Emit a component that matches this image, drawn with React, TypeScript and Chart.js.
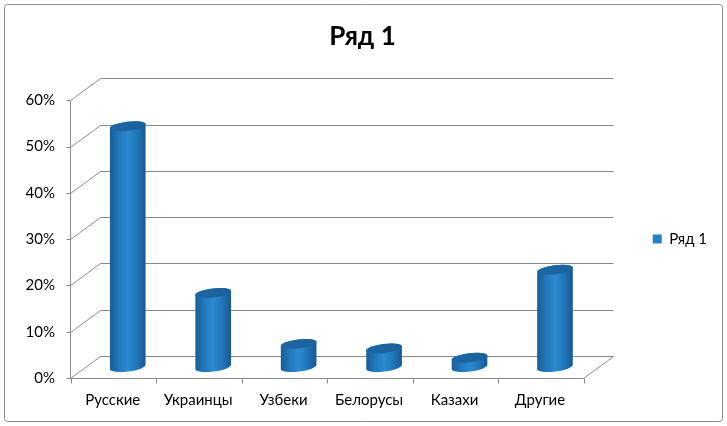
import { useEffect, useRef } from "react";
import { Chart, registerables } from "chart.js";

Chart.register(...registerables);

const categories = ["Русские", "Украинцы", "Узбеки", "Белорусы", "Казахи", "Другие"];
const shares = [52, 16, 5, 4, 2, 21];
const seriesName = "Ряд 1";
const axisMax = 60;
const axisStep = 10;

const FONT = "Lato, 'Open Sans', 'DejaVu Sans', sans-serif";
const DX = 30; // depth of the 3d box
const DY = 22;
const LINE = "#8a8a8a";

const drawCylinder = (
  ctx: CanvasRenderingContext2D,
  cx: number,
  yTop: number,
  yBot: number,
  rx: number,
  ry: number,
  rot: number
) => {
  const c = Math.cos(rot);
  const s = Math.sin(rot);
  const body = ctx.createLinearGradient(cx - rx, 0, cx + rx, 0);
  body.addColorStop(0, "#1a5c95");
  body.addColorStop(0.25, "#2178bb");
  body.addColorStop(0.5, "#2b8ad1");
  body.addColorStop(0.75, "#2076b8");
  body.addColorStop(1, "#195890");

  ctx.beginPath();
  ctx.moveTo(cx - rx * c, yTop - rx * s);
  ctx.lineTo(cx - rx * c, yBot - rx * s);
  ctx.ellipse(cx, yBot, rx, ry, rot, Math.PI, 0, true);
  ctx.lineTo(cx + rx * c, yTop + rx * s);
  ctx.ellipse(cx, yTop, rx, ry, rot, 0, Math.PI, true);
  ctx.closePath();
  ctx.fillStyle = body;
  ctx.fill();

  const top = ctx.createLinearGradient(cx - rx, 0, cx + rx, 0);
  top.addColorStop(0, "#1d67a5");
  top.addColorStop(1, "#1b619c");
  ctx.beginPath();
  ctx.ellipse(cx, yTop, rx, ry, rot, 0, Math.PI * 2);
  ctx.fillStyle = top;
  ctx.fill();
};

const frame3d = {
  id: "frame3d",
  beforeDraw(chart: any) {
    const { ctx } = chart;
    ctx.save();
    ctx.strokeStyle = "#8c8c8c";
    ctx.lineWidth = 1;
    ctx.beginPath();
    ctx.roundRect(4.5, 4.5, chart.width - 9, chart.height - 9, 3);
    ctx.stroke();
    ctx.restore();
  },
  beforeDatasetsDraw(chart: any) {
    const { ctx, chartArea, scales } = chart;
    const y = scales.y;
    const x = scales.x;
    const x0 = Math.round(chartArea.left) + 0.5;
    const x1 = Math.round(chartArea.right) + 0.5;
    const yPix = (v: number) => Math.round(y.getPixelForValue(v)) + 0.5;

    ctx.save();
    ctx.strokeStyle = LINE;
    ctx.lineWidth = 1;
    ctx.beginPath();
    y.ticks.forEach((t: any) => {
      const yy = yPix(t.value);
      ctx.moveTo(x0 - 4, yy);
      ctx.lineTo(x0, yy);
      ctx.lineTo(x0 + DX, yy - DY);
      ctx.lineTo(x1 + DX, yy - DY);
    });
    const y0 = yPix(0);
    ctx.moveTo(x0, yPix(axisMax));
    ctx.lineTo(x0, y0);
    ctx.lineTo(x1, y0);
    ctx.lineTo(x1 + DX, y0 - DY);
    const step = (x1 - x0) / categories.length;
    for (let i = 0; i <= categories.length; i++) {
      const xx = Math.round(x0 + step * i) + 0.5;
      ctx.moveTo(xx, y0);
      ctx.lineTo(xx, y0 + 5);
    }
    ctx.stroke();

    const meta = chart.getDatasetMeta(0);
    const base = y.getPixelForValue(0) - DY / 2;
    meta.data.forEach((bar: any, i: number) => {
      const cx = x.getPixelForValue(i) + DX / 2;
      const top = y.getPixelForValue(shares[i]) - DY / 2;
      drawCylinder(ctx, cx, top, base, bar.width / 2, 4.5, -0.12);
    });
    ctx.restore();
    return false;
  },
};

const App = () => {
  const chartRef = useRef<HTMLCanvasElement>(null);

  useEffect(() => {
    if (!chartRef.current) return;
    document.body.style.margin = "0";

    const chart = new Chart(chartRef.current, {
      type: "bar",
      data: {
        labels: categories,
        datasets: [
          {
            label: seriesName,
            data: shares,
            backgroundColor: "#2580c6",
            borderWidth: 0,
            categoryPercentage: 1,
            barPercentage: 0.42,
          },
        ],
      },
      options: {
        responsive: false,
        animation: false,
        devicePixelRatio: 1,
        layout: { padding: { top: 8, left: 8, right: 10, bottom: 8 } },
        plugins: {
          title: {
            display: true,
            text: seriesName,
            color: "#000",
            font: { family: FONT, size: 26, weight: "bold" },
            padding: { top: 13, bottom: 48 },
          },
          legend: {
            position: "right",
            fullSize: false,
            labels: {
              color: "#000",
              boxWidth: 9,
              boxHeight: 9,
              padding: 70,
              font: { family: FONT, size: 15 },
            },
          },
          tooltip: { enabled: false },
        },
        scales: {
          x: {
            grid: { display: false, drawTicks: false },
            border: { display: false },
            ticks: {
              color: "#000",
              padding: 13,
              font: { family: FONT, size: 15 },
            },
            afterFit: (scale: any) => {
              scale.height = 40;
            },
          },
          y: {
            min: 0,
            max: axisMax,
            grid: { display: false, drawTicks: false },
            border: { display: false },
            ticks: {
              stepSize: axisStep,
              color: "#000",
              padding: 15,
              font: { family: FONT, size: 15 },
              callback: (v: any) => v + "%",
            },
            afterFit: (scale: any) => {
              scale.width = 62;
            },
          },
        },
      },
      plugins: [frame3d],
    });

    return () => {
      chart.destroy();
    };
  }, []);

  return (
    <div style={{ width: 727, height: 426 }}>
      <canvas ref={chartRef} width={727} height={426} style={{ display: "block" }} />
    </div>
  );
};

export default App;
